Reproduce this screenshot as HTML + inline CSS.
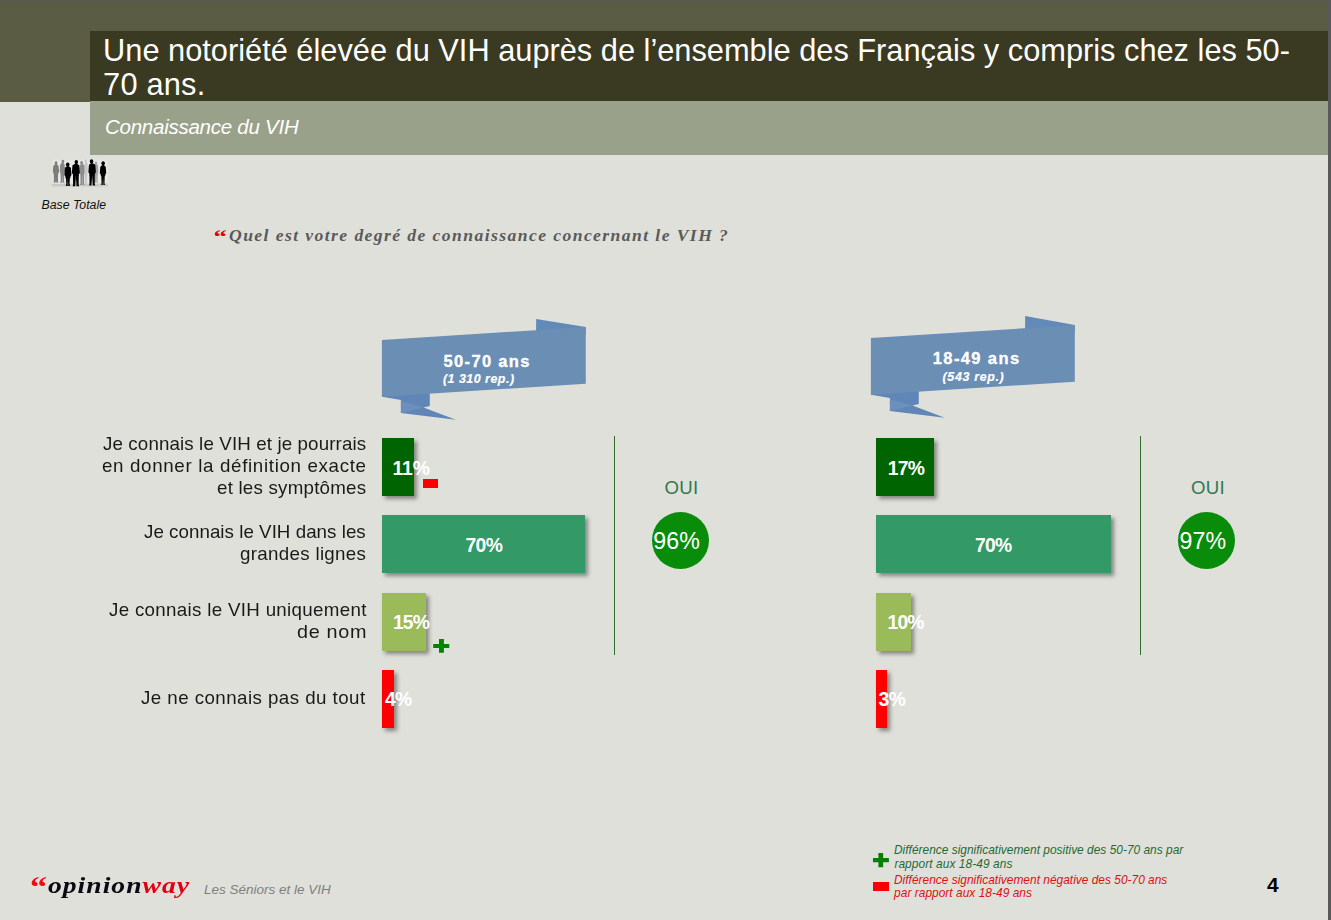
<!DOCTYPE html>
<html>
<head>
<meta charset="utf-8">
<style>
html,body{margin:0;padding:0;}
body{width:1331px;height:920px;position:relative;overflow:hidden;background:#dfe0da;font-family:"Liberation Sans",sans-serif;}
.abs{position:absolute;white-space:nowrap;line-height:1;}
#topline{left:0;top:0;width:1331px;height:1px;background:#57574f;}
#rstrip{left:1328px;top:0;width:3px;height:920px;background:#595959;}
#band{left:0;top:1px;width:1328px;height:100.5px;background:#5a5c43;}
#tbar{left:90px;top:31px;width:1238px;height:70px;background:#3a3922;}
#sbar{left:90px;top:101px;width:1238px;height:53.6px;background:#9aa18a;}
.title{color:#fff;font-size:30.78px;left:103.1px;}
#sub{color:#fff;font-style:italic;font-size:20.5px;left:105px;top:116.6px;letter-spacing:-0.25px;}
.lbl{color:#1a1a1a;font-size:17.7px;transform:scaleX(1.06);transform-origin:0 0;}
.bar{position:absolute;box-shadow:3px 3px 4px rgba(0,0,0,0.4);}
.val{color:#fff;font-weight:bold;font-size:19.3px;}
.vline{position:absolute;width:1px;background:#2b6f2b;top:436px;height:219px;border-right:1px solid #c6f1c6;}
.oui{color:#2e7a52;font-size:18.6px;}
.circ{position:absolute;width:57px;height:57px;border-radius:50%;background:#098c09;}
.cval{color:#fff;font-size:23.2px;}
.leg{font-style:italic;font-size:11.9px;left:894.3px;}
</style>
</head>
<body>
<div class="abs" id="band"></div>
<div class="abs" id="tbar"></div>
<div class="abs" id="sbar"></div>
<div class="abs" id="topline"></div>
<div class="abs" id="rstrip"></div>

<div class="abs title" id="t1" style="top:35.9px;">Une notoriété élevée du VIH auprès de l’ensemble des Français y compris chez les 50-</div>
<div class="abs title" id="t2" style="top:70.2px;letter-spacing:0.2px;">70 ans.</div>
<div class="abs" id="sub">Connaissance du VIH</div>

<!-- people icon -->
<svg class="abs" id="people" style="left:45px;top:155px;" width="70" height="37" viewBox="0 0 70 37">
<defs><filter id="pb" x="-10%" y="-10%" width="120%" height="120%"><feGaussianBlur stdDeviation="0.33"/></filter><filter id="pb2" x="-20%" y="-20%" width="140%" height="140%"><feGaussianBlur stdDeviation="0.9"/></filter></defs>
<rect x="7.89" y="5.26" width="54.45" height="24.20" fill="#eeeeec" filter="url(#pb2)" opacity="0.75"/>
<g filter="url(#pb)">
<rect x="7.10" y="28.67" width="55.76" height="2.89" fill="#c9c9c9"/>
<g fill="#7c7c7c"><ellipse cx="11.05" cy="7.89" rx="1.47" ry="1.69"/><rect x="10.24" y="7.89" width="1.62" height="2.74"/><polygon points="8.29,10.73 9.91,9.47 11.97,9.47 13.59,10.73 14.10,16.83 13.21,18.41 13.09,19.99 8.80,19.99 8.67,18.41 7.79,16.83"/><polygon points="8.80,18.94 11.10,18.94 10.84,27.62 8.37,27.62 8.90,26.04"/><polygon points="10.78,18.94 13.09,18.94 12.98,26.04 13.51,27.62 11.15,27.62"/></g>
<g fill="#868686"><ellipse cx="17.89" cy="6.42" rx="1.37" ry="1.57"/><rect x="17.13" y="6.42" width="1.50" height="2.95"/><polygon points="15.15,9.47 16.40,8.21 18.32,8.21 19.57,9.47 19.99,16.31 19.25,17.89 19.15,19.46 15.57,19.46 15.47,17.89 14.73,16.31"/><polygon points="15.57,18.41 17.52,18.41 17.25,27.77 15.15,27.77 15.68,26.20"/><polygon points="17.20,18.41 19.15,18.41 19.04,26.20 19.57,27.77 17.57,27.77"/></g>
<g fill="#8c8c8c"><ellipse cx="36.56" cy="7.63" rx="1.47" ry="1.69"/><rect x="35.75" y="7.63" width="1.62" height="2.79"/><polygon points="34.91,10.52 36.24,9.26 38.30,9.26 39.63,10.52 40.08,16.83 39.30,18.41 39.18,19.99 35.36,19.99 35.24,18.41 34.46,16.83"/><polygon points="35.36,18.94 37.43,18.94 37.16,29.88 34.94,29.88 35.46,28.30"/><polygon points="37.11,18.94 39.18,18.94 39.08,28.30 39.60,29.88 37.48,29.88"/></g>
<g fill="#c6c6c6"><ellipse cx="40.61" cy="5.89" rx="1.16" ry="1.33"/><rect x="39.97" y="5.89" width="1.27" height="2.63"/><polygon points="39.63,8.63 40.27,7.36 41.89,7.36 42.54,8.63 42.82,16.31 42.33,17.89 42.26,19.46 39.90,19.46 39.83,17.89 39.35,16.31"/><polygon points="39.90,18.41 41.24,18.41 40.98,28.41 39.48,28.41 40.01,26.83"/><polygon points="40.93,18.41 42.26,18.41 42.16,26.83 42.68,28.41 41.29,28.41"/></g>
<g fill="#a2a2a2"><ellipse cx="51.03" cy="8.00" rx="1.37" ry="1.57"/><rect x="50.27" y="8.00" width="1.50" height="2.63"/><polygon points="49.66,10.73 50.38,9.47 52.30,9.47 53.02,10.73 53.34,16.83 52.78,18.41 52.70,19.99 49.98,19.99 49.90,18.41 49.34,16.83"/><polygon points="49.98,18.94 51.50,18.94 51.24,27.77 49.56,27.77 50.09,26.20"/><polygon points="51.18,18.94 52.70,18.94 52.60,26.20 53.12,27.77 51.55,27.77"/></g>
<g fill="#050505"><ellipse cx="22.72" cy="9.57" rx="1.79" ry="2.06"/><rect x="21.74" y="9.57" width="1.97" height="3.16"/><polygon points="19.93,12.84 21.66,11.57 24.16,11.57 25.89,12.84 26.46,19.99 25.47,21.57 25.32,23.15 20.49,23.15 20.35,21.57 19.36,19.99"/><polygon points="20.92,22.09 23.01,22.09 22.65,30.93 20.82,30.93 21.24,28.83"/><polygon points="22.80,22.09 24.90,22.09 24.58,28.83 25.11,30.93 23.22,30.93"/></g>
<g fill="#050505"><ellipse cx="31.30" cy="7.10" rx="1.74" ry="2.00"/><rect x="30.34" y="7.10" width="1.91" height="3.00"/><polygon points="27.48,10.21 29.66,8.94 32.09,8.94 34.28,10.21 34.93,17.89 33.79,19.46 33.63,21.04 28.12,21.04 27.96,19.46 26.83,17.89"/><polygon points="27.96,19.99 30.98,19.99 30.25,31.14 27.65,31.14 28.07,29.56"/><polygon points="30.77,19.99 33.79,19.99 33.69,29.56 34.22,31.14 31.51,31.14"/></g>
<g fill="#050505"><ellipse cx="46.55" cy="6.21" rx="1.74" ry="2.00"/><rect x="45.60" y="6.21" width="1.91" height="3.37"/><polygon points="43.95,9.68 45.92,8.42 48.35,8.42 50.31,9.68 50.92,17.36 49.86,18.94 49.71,20.52 44.56,20.52 44.41,18.94 43.35,17.36"/><polygon points="44.41,19.46 47.24,19.46 46.50,30.62 44.09,30.62 44.51,29.04"/><polygon points="47.03,19.46 49.86,19.46 49.75,29.04 50.28,30.62 47.76,30.62"/></g>
<g fill="#050505"><ellipse cx="58.13" cy="8.31" rx="1.79" ry="2.06"/><rect x="57.14" y="8.31" width="1.97" height="3.37"/><polygon points="55.33,11.78 56.77,10.52 59.27,10.52 60.72,11.78 61.23,17.89 60.33,19.46 60.20,21.04 55.84,21.04 55.71,19.46 54.81,17.89"/><polygon points="56.23,19.99 58.13,19.99 57.76,30.09 56.12,30.09 56.54,27.99"/><polygon points="57.92,19.99 59.82,19.99 59.50,27.99 60.03,30.09 58.34,30.09"/></g>
</g></svg>
<div class="abs" id="base" style="left:41.5px;top:199px;font-style:italic;font-size:12.3px;color:#111;letter-spacing:0px;">Base Totale</div>

<!-- question -->
<div class="abs" id="qmark" style="left:212px;top:226.8px;font-family:'Liberation Serif',serif;font-weight:bold;font-style:italic;font-size:26px;color:#e8000a;transform:scale(1.1,0.75);transform-origin:0 0;">“</div>
<div class="abs" id="quest" style="left:229px;top:227.3px;font-family:'Liberation Serif',serif;font-weight:bold;font-style:italic;font-size:17.6px;color:#5a5a5a;letter-spacing:1.42px;">Quel est votre degré de connaissance concernant le VIH ?</div>

<!-- ribbons -->
<svg class="abs" id="rib1" style="left:370px;top:310px;" width="230" height="120" viewBox="370 310 230 120">
  <polygon points="536.1,319 585.8,327.1 585.8,334 536.1,336" fill="#628ab8"/>
  <polygon points="382.1,392 382.1,396.7 400.9,400.1 400.9,413.1 455.8,419.7 423.5,407.4 429.8,405.9 429.8,390" fill="#5f86b6"/>
  <polygon points="400.9,401 423.5,407.4 400.9,413.1" fill="#6b90bb"/>
  <polygon points="381.9,340 585.8,327.05 585.8,383.65 381.9,396.7" fill="#6b8eb5"/>
</svg>
<svg class="abs" id="rib2" style="left:859px;top:308px;" width="230" height="120" viewBox="370 310 230 120">
  <polygon points="536.1,318.1 585.8,327.1 585.8,334 536.1,336" fill="#628ab8"/>
  <polygon points="382.1,392 382.1,396.7 400.9,400.1 400.9,413.1 455.8,419.7 423.5,407.4 429.8,405.9 429.8,390" fill="#5f86b6"/>
  <polygon points="400.9,401 423.5,407.4 400.9,413.1" fill="#6b90bb"/>
  <polygon points="381.9,340 585.8,327.05 585.8,383.65 381.9,396.7" fill="#6b8eb5"/>
</svg>
<div class="abs" id="r1a" style="left:443.6px;top:352.9px;color:#fff;font-weight:bold;font-size:16.5px;letter-spacing:1.32px;-webkit-text-stroke:0.35px #fff;">50-70 ans</div>
<div class="abs" id="r1b" style="left:442.9px;top:373.4px;color:#fff;font-weight:bold;font-style:italic;font-size:12.4px;letter-spacing:0.52px;-webkit-text-stroke:0.2px #fff;">(1 310 rep.)</div>
<div class="abs" id="r2a" style="left:932.8px;top:349.9px;color:#fff;font-weight:bold;font-size:16.5px;letter-spacing:1.38px;-webkit-text-stroke:0.35px #fff;">18-49 ans</div>
<div class="abs" id="r2b" style="left:942.5px;top:371.3px;color:#fff;font-weight:bold;font-style:italic;font-size:12.4px;letter-spacing:0.68px;-webkit-text-stroke:0.2px #fff;">(543 rep.)</div>

<!-- labels -->
<div class="abs lbl" id="l1a" style="left:102.7px;top:435.9px;letter-spacing:0.11px;">Je connais le VIH et je pourrais</div>
<div class="abs lbl" id="l1b" style="left:101.9px;top:457.8px;letter-spacing:0.62px;">en donner la définition exacte</div>
<div class="abs lbl" id="l1c" style="left:216.8px;top:479.8px;letter-spacing:0.20px;">et les symptômes</div>
<div class="abs lbl" id="l2a" style="left:144.4px;top:523.7px;letter-spacing:0.03px;">Je connais le VIH dans les</div>
<div class="abs lbl" id="l2b" style="left:240.3px;top:545.9px;letter-spacing:0.29px;">grandes lignes</div>
<div class="abs lbl" id="l3a" style="left:108.5px;top:601.7px;letter-spacing:0.29px;">Je connais le VIH uniquement</div>
<div class="abs lbl" id="l3b" style="left:297.1px;top:623.8px;letter-spacing:0.60px;transform:scaleX(1.12);">de nom</div>
<div class="abs lbl" id="l4a" style="left:141.2px;top:689.8px;letter-spacing:0.41px;">Je ne connais pas du tout</div>

<!-- left bars -->
<div class="bar" style="left:382px;top:438px;width:32px;height:57.6px;background:#006400;"></div>
<div class="bar" style="left:382px;top:515.3px;width:203px;height:57.6px;background:#339966;"></div>
<div class="bar" style="left:382px;top:593px;width:44px;height:57.6px;background:#9bba59;"></div>
<div class="bar" style="left:382px;top:670.3px;width:12px;height:57.6px;background:#ff0000;"></div>
<div class="abs val" id="v1" style="left:392.4px;top:458.7px;letter-spacing:0.00px;">11%</div>
<div class="abs val" id="v2" style="left:465.5px;top:535.7px;letter-spacing:-0.60px;">70%</div>
<div class="abs val" id="v3" style="left:393.0px;top:612.9px;letter-spacing:-0.90px;">15%</div>
<div class="abs val" id="v4" style="left:385.0px;top:689.7px;letter-spacing:-0.80px;">4%</div>
<div class="abs" style="left:423.1px;top:479.1px;width:14.9px;height:8.7px;background:#fb0000;"></div>
<svg class="abs" style="left:433px;top:638px;" width="17" height="16" viewBox="433 638 17 16"><path d="M439 639h4.9v4.9h5.4v4.1h-5.4v4.8h-4.9v-4.8h-5.8v-4.1h5.8z" fill="#008500"/></svg>

<!-- right bars -->
<div class="bar" style="left:876px;top:438px;width:58px;height:57.6px;background:#006400;"></div>
<div class="bar" style="left:876px;top:515.3px;width:235px;height:57.6px;background:#339966;"></div>
<div class="bar" style="left:876px;top:593px;width:35.2px;height:57.6px;background:#9bba59;"></div>
<div class="bar" style="left:876px;top:670.3px;width:11px;height:57.6px;background:#ff0000;"></div>
<div class="abs val" id="w1" style="left:887.7px;top:458.7px;letter-spacing:-0.65px;">17%</div>
<div class="abs val" id="w2" style="left:975.0px;top:535.7px;letter-spacing:-0.70px;">70%</div>
<div class="abs val" id="w3" style="left:887.5px;top:612.9px;letter-spacing:-0.80px;">10%</div>
<div class="abs val" id="w4" style="left:878.5px;top:689.7px;letter-spacing:-0.40px;">3%</div>

<!-- OUI -->
<div class="vline" style="left:614px;"></div>
<div class="vline" style="left:1140px;"></div>
<div class="abs oui" id="o1" style="left:664.4px;top:478.6px;letter-spacing:0.4px;">OUI</div>
<div class="abs oui" id="o2" style="left:1190.9px;top:478.6px;letter-spacing:0.4px;">OUI</div>
<div class="circ" style="left:651.7px;top:512.1px;"></div>
<div class="circ" style="left:1177.6px;top:512.1px;"></div>
<div class="abs cval" id="c1" style="left:653.3px;top:530.2px;letter-spacing:0.1px;">96%</div>
<div class="abs cval" id="c2" style="left:1179.5px;top:530.2px;letter-spacing:0.1px;">97%</div>

<!-- footer -->
<div class="abs" id="lq" style="left:29.6px;top:872px;font-family:'Liberation Serif',serif;font-weight:bold;font-size:30px;color:#f00a14;transform:scaleX(1.14);transform-origin:0 0;">“</div>
<div class="abs" id="logo" style="left:48.4px;top:874px;font-family:'Liberation Serif',serif;font-weight:bold;font-style:italic;font-size:23px;color:#0a0a14;letter-spacing:0.84px;transform:scaleX(1.2);transform-origin:0 0;">opinion<span style="color:#e1000f;">way</span></div>
<div class="abs" id="foot" style="left:204px;top:882.7px;font-style:italic;font-size:13.5px;color:#7f7f7f;">Les Séniors et le VIH</div>

<svg class="abs" style="left:872px;top:852px;" width="18" height="16" viewBox="872 852 18 16"><path d="M878.4 853.1h4.75v5h5.75v4.1h-5.75v5h-4.75v-5h-5.45v-4.1h5.45z" fill="#088008"/></svg>
<div class="abs" style="left:873.1px;top:882.2px;width:15.8px;height:8.6px;background:#fb0000;"></div>
<div class="abs leg" id="g1" style="top:844.5px;color:#1d6b35;left:894px;letter-spacing:0.02px;">Différence significativement positive des 50-70 ans par</div>
<div class="abs leg" id="g2" style="top:859.1px;color:#1d6b35;left:894.4px;letter-spacing:0.08px;">rapport aux 18-49 ans</div>
<div class="abs leg" id="g3" style="top:874.9px;color:#e01010;left:894px;letter-spacing:0.02px;">Différence significativement négative des 50-70 ans</div>
<div class="abs leg" id="g4" style="top:888.1px;color:#e01010;left:894.1px;letter-spacing:0.04px;">par rapport aux 18-49 ans</div>
<div class="abs" id="pg" style="left:1267px;top:875.1px;font-weight:bold;font-size:20.8px;color:#000;">4</div>
</body>
</html>
